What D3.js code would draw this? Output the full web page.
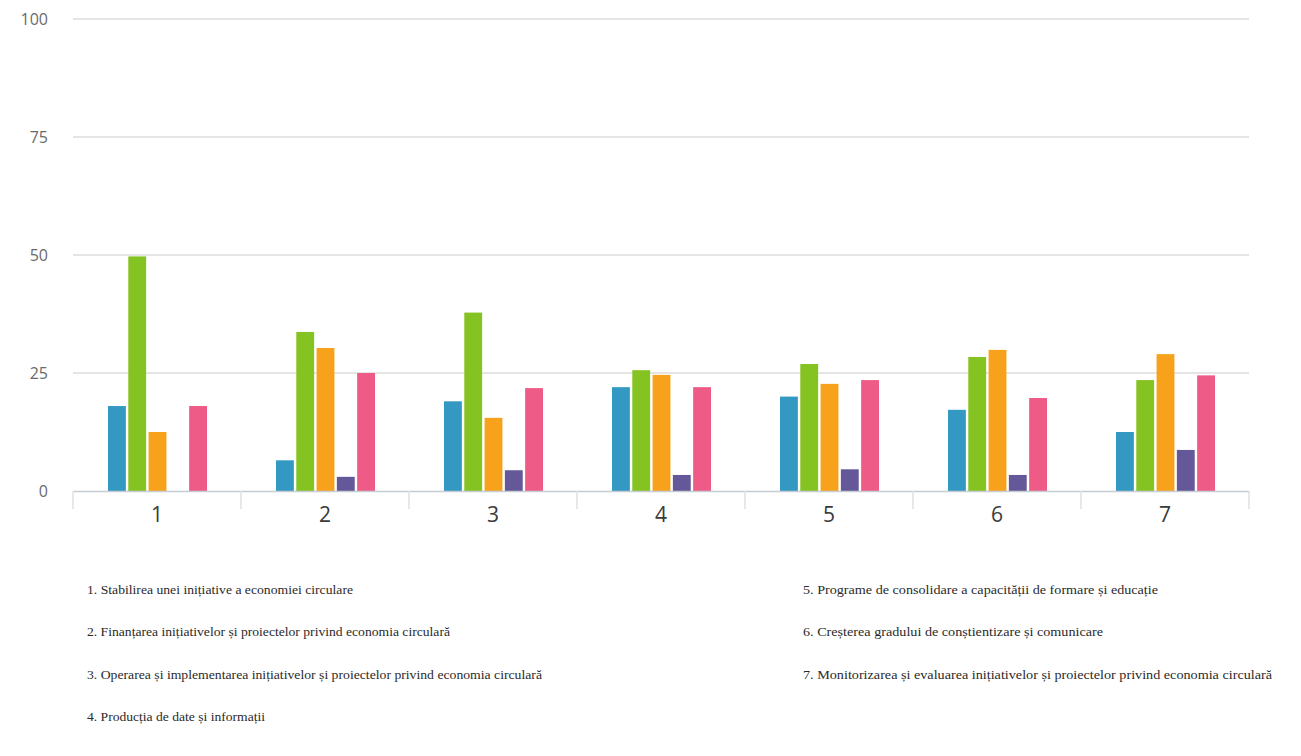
<!DOCTYPE html>
<html><head><meta charset="utf-8">
<script src="https://cdn.jsdelivr.net/npm/d3@7/dist/d3.min.js"></script>
<style>body{margin:0;background:#fff}svg{display:block}</style>
</head><body>
<svg id="c" width="1301" height="756"></svg>
<script>
const categories = ["1","2","3","4","5","6","7"];
const seriesNames = ["s1","s2","s3","s4","s5"];
const s1 = [18, 6.5, 19, 22, 20, 17.2, 12.5];
const s2 = [49.7, 33.7, 37.8, 25.6, 26.9, 28.4, 23.5];
const s3 = [12.5, 30.3, 15.5, 24.6, 22.7, 29.9, 29];
const s4 = [0, 3, 4.4, 3.4, 4.6, 3.4, 8.7];
const s5 = [18, 25, 21.8, 22, 23.5, 19.7, 24.5];
const yTicks = [0, 25, 50, 75, 100];
const legendLeft = [
  "1.  Stabilirea unei inițiative a economiei circulare",
  "2. Finanțarea inițiativelor și proiectelor privind economia circulară",
  "3. Operarea și implementarea inițiativelor și proiectelor privind economia circulară",
  "4. Producția de date și informații"
];
const legendRight = [
  "5. Programe de consolidare a capacității de formare și educație",
  "6. Creșterea gradului de conștientizare și comunicare",
  "7. Monitorizarea și evaluarea inițiativelor și proiectelor privind economia circulară"
];
const legendLeftW = [266, 363, 455, 178];
const legendRightW = [355, 300, 469];
const colors = ["#3399c3", "#85c322", "#f8a21c", "#655898", "#ee5b86"];
const allSeries = [s1, s2, s3, s4, s5];

const svg = d3.select("#c");
const x0 = d3.scaleBand().domain(categories).range([73, 1249]);
const x1 = d3.scaleBand().domain(seriesNames).range([35, 134]).paddingInner(0.12);
const y = d3.scaleLinear().domain([0, 100]).range([491, 19]);

// grid
svg.append("g").selectAll("line").data(yTicks.filter(d => d > 0)).join("line")
  .attr("x1", 73).attr("x2", 1249).attr("y1", d => y(d)).attr("y2", d => y(d))
  .attr("stroke", "#dcdcdc").attr("stroke-width", 1.5);

// y labels
svg.append("g").selectAll("text").data(yTicks).join("text")
  .attr("x", 48).attr("y", d => y(d)).attr("dy", "0.35em")
  .attr("text-anchor", "end").attr("font-family", "Open Sans, sans-serif")
  .attr("font-size", 16).attr("fill", "#6a6a6a").text(d => d);

// bars
const g = svg.append("g");
categories.forEach((c, i) => {
  allSeries.forEach((s, j) => {
    if (s[i] <= 0) return;
    g.append("rect")
      .attr("x", x0(c) + x1(seriesNames[j]))
      .attr("y", y(s[i]))
      .attr("width", x1.bandwidth())
      .attr("height", y(0) - y(s[i]))
      .attr("fill", colors[j]);
  });
});

// x axis
const xAxis = svg.append("g").attr("transform", `translate(0,${y(0)})`)
  .call(d3.axisBottom(x0).tickSize(0).tickPadding(16));
xAxis.select(".domain").attr("stroke", "#c5ccd4").attr("stroke-width", 1.5);
xAxis.selectAll("text").attr("font-family", "Open Sans, sans-serif").attr("font-size", 21).attr("fill", "#3a3a3a");
const boundaries = categories.map(c => x0(c)).concat([x0.range()[1]]);
svg.append("g").selectAll("line").data(boundaries).join("line")
  .attr("x1", d => d).attr("x2", d => d).attr("y1", y(0)).attr("y2", y(0) + 18)
  .attr("stroke", "#dde2e6").attr("stroke-width", 1.5);

// legend texts
const lg = svg.append("g").attr("font-family", "Liberation Serif, Times New Roman, serif")
  .attr("font-size", 11.5).attr("fill", "#2a2a2a");
lg.selectAll("text.l").data(legendLeft).join("text").attr("class", "l")
  .attr("x", 87).attr("y", (d, i) => 594 + i * 42.3)
  .attr("textLength", (d, i) => legendLeftW[i]).attr("lengthAdjust", "spacingAndGlyphs")
  .text(d => d);
lg.selectAll("text.r").data(legendRight).join("text").attr("class", "r")
  .attr("x", 803).attr("y", (d, i) => 594 + i * 42.3)
  .attr("textLength", (d, i) => legendRightW[i]).attr("lengthAdjust", "spacingAndGlyphs")
  .text(d => d);
</script>
</body></html>
